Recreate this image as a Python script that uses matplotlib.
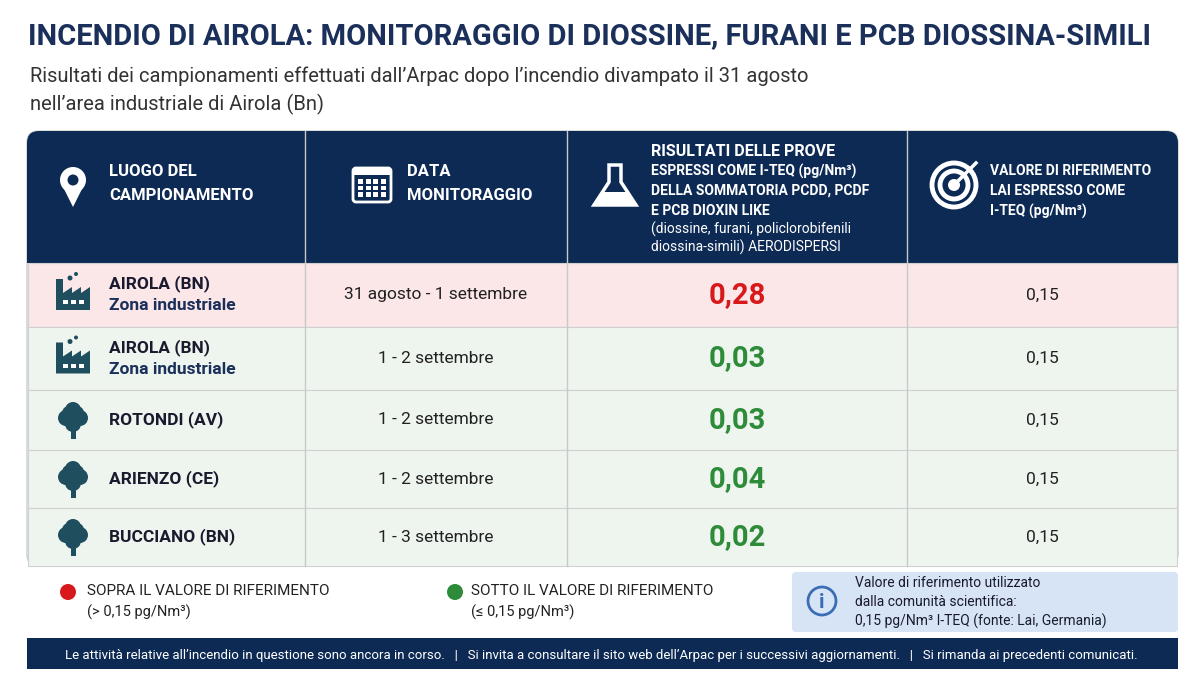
import matplotlib
matplotlib.use("Agg")
import matplotlib.pyplot as plt
from matplotlib.patches import Rectangle, FancyBboxPatch, Circle, Polygon

locations = ["AIROLA (BN)", "AIROLA (BN)", "ROTONDI (AV)", "ARIENZO (CE)", "BUCCIANO (BN)"]
sublabels = ["Zona industriale", "Zona industriale", "", "", ""]
icon_kind = ["factory", "factory", "tree", "tree", "tree"]
dates = ["31 agosto - 1 settembre", "1 - 2 settembre", "1 - 2 settembre", "1 - 2 settembre", "1 - 3 settembre"]
values = [0.28, 0.03, 0.03, 0.04, 0.02]
reference = [0.15, 0.15, 0.15, 0.15, 0.15]

NAVY = "#0d2a55"
TEAL = "#1f4e5f"
RED = "#d7191c"
GREEN = "#2e8b3a"
FONT = ["Roboto", "DejaVu Sans"]
plt.rcParams["font.family"] = FONT

fig = plt.figure(figsize=(12, 6.75), dpi=100)
ax = fig.add_axes([0, 0, 1, 1])
ax.set_xlim(0, 1200); ax.set_ylim(675, 0); ax.axis("off")

def fmt(v):
    return f"{v:.2f}".replace(".", ",")

# Title
ax.text(28, 36, "INCENDIO DI AIROLA: MONITORAGGIO DI DIOSSINE, FURANI E PCB DIOSSINA-SIMILI",
        fontsize=21, fontweight="bold", color="#1a2f5a", va="center")
ax.text(30, 76, "Risultati dei campionamenti effettuati dall\u2019Arpac dopo l\u2019incendio divampato il 31 agosto",
        fontsize=14.5, color="#333333", va="center")
ax.text(30, 104, "nell\u2019area industriale di Airola (Bn)", fontsize=14.5, color="#333333", va="center")

# Table
L, R = 27, 1178
top, htop = 131, 263
cols = [L, 305, 567, 907, R]
row_edges = [263, 327, 390, 450, 508, 566]
ax.add_patch(FancyBboxPatch((L, top), R - L, 566 - top, boxstyle="round,pad=0,rounding_size=12",
                            fc="white", ec="#cccccc", lw=1))
ax.add_patch(FancyBboxPatch((L, top), R - L, htop - top, boxstyle="round,pad=0,rounding_size=12",
                            fc=NAVY, ec="none"))
ax.add_patch(Rectangle((L, htop - 20), R - L, 20, fc=NAVY, ec="none"))

for i in range(len(values)):
    y0, y1 = row_edges[i], row_edges[i + 1]
    over = values[i] > reference[i]
    ax.add_patch(Rectangle((L + 1, y0), R - L - 2, y1 - y0, fc="#fbe6e8" if over else "#eef5ee",
                           ec="#d0d0d0", lw=0.8))
for x in cols[1:-1]:
    ax.plot([x, x], [top, 566], color="#c8c8c8", lw=1)

# Header texts
hdr = dict(color="white", fontweight="bold", fontsize=12, va="center")
ax.text(109, 172, "LUOGO DEL", **hdr); ax.text(109, 195, "CAMPIONAMENTO", **hdr)
ax.text(407, 172, "DATA", **hdr); ax.text(407, 195, "MONITORAGGIO", **hdr)
ax.text(651, 151, "RISULTATI DELLE PROVE", color="white", fontweight="bold", fontsize=11.5, va="center")
for k, t in enumerate(["ESPRESSI COME I-TEQ (pg/Nm\u00b3)", "DELLA SOMMATORIA PCDD, PCDF", "E PCB DIOXIN LIKE"]):
    ax.text(651, 171 + 20 * k, t, color="white", fontweight="bold", fontsize=10, va="center")
ax.text(651, 229, "(diossine, furani, policlorobifenili", color="white", fontsize=10, va="center")
ax.text(651, 247, "diossina-simili) AERODISPERSI", color="white", fontsize=10, va="center")
for k, t in enumerate(["VALORE DI RIFERIMENTO", "LAI ESPRESSO COME", "I-TEQ (pg/Nm\u00b3)"]):
    ax.text(990, 171 + 20 * k, t, color="white", fontweight="bold", fontsize=10, va="center")

# Header icons
ax.add_patch(Polygon([[61, 183], [85, 183], [73, 207]], closed=True, fc="white", ec="none"))
ax.add_patch(Circle((73, 180), 13, fc="white", ec="none"))
ax.add_patch(Circle((73, 180), 5.5, fc=NAVY, ec="none"))
ax.add_patch(FancyBboxPatch((353, 168), 38, 34, boxstyle="round,pad=0,rounding_size=3", fc="none", ec="white", lw=2))
ax.add_patch(Rectangle((353, 168), 38, 7, fc="white", ec="none"))
for r in range(3):
    for c in range(4):
        ax.add_patch(Rectangle((358 + c * 7.5, 179 + r * 6.5), 5, 4.5, fc="white", ec="none"))
ax.add_patch(Polygon([[609, 165], [621, 165], [621, 182], [636, 205], [594, 205], [609, 182]], closed=True,
                     fc="none", ec="white", lw=2.5))
ax.add_patch(Polygon([[603, 192], [627, 192], [634, 204], [596, 204]], closed=True, fc="white", ec="none"))
for rr in [22, 14]:
    ax.add_patch(Circle((954, 185), rr, fc="none", ec="white", lw=3.5))
ax.add_patch(Circle((954, 185), 6, fc="white", ec="none"))
ax.plot([954, 976], [185, 163], color="white", lw=2.5)

# Row icons
def factory(cx, cy):
    ax.add_patch(Polygon([[cx - 17, cy + 15], [cx - 17, cy - 16], [cx - 10, cy - 16], [cx - 10, cy - 2],
                          [cx - 1, cy - 8], [cx - 1, cy - 2], [cx + 8, cy - 8], [cx + 8, cy - 2],
                          [cx + 17, cy - 8], [cx + 17, cy + 15]], closed=True, fc=TEAL, ec="none"))
    for dx in [-8, 0, 8]:
        ax.add_patch(Rectangle((cx + dx - 2.5, cy + 5), 5, 4, fc="white", ec="none"))
    ax.add_patch(Circle((cx - 3, cy - 17), 2.5, fc=TEAL, ec="none"))
    ax.add_patch(Circle((cx + 3, cy - 21), 2, fc=TEAL, ec="none"))

def tree(cx, cy):
    ax.add_patch(Rectangle((cx - 2.5, cy + 5), 5, 14, fc=TEAL, ec="none"))
    for dx, dy, r in [(0, -10, 8), (-7, -2, 8), (7, -2, 8), (0, 4, 8), (-4, -7, 7), (4, -7, 7)]:
        ax.add_patch(Circle((cx + dx, cy + dy), r, fc=TEAL, ec="none"))

for i in range(len(values)):
    yc = (row_edges[i] + row_edges[i + 1]) / 2
    (factory if icon_kind[i] == "factory" else tree)(73, yc)
    if sublabels[i]:
        ax.text(109, yc - 11, locations[i], fontsize=12.5, fontweight="bold", color="#1a1a2e", va="center")
        ax.text(109, yc + 11, sublabels[i], fontsize=12.5, fontweight="bold", color="#1a2f5a", va="center")
    else:
        ax.text(109, yc, locations[i], fontsize=12.5, fontweight="bold", color="#1a1a2e", va="center")
    ax.text((cols[1] + cols[2]) / 2, yc, dates[i], fontsize=12.5, color="#222222", ha="center", va="center")
    ax.text((cols[2] + cols[3]) / 2, yc, fmt(values[i]), fontsize=21, fontweight="bold",
            color=RED if values[i] > reference[i] else GREEN, ha="center", va="center")
    ax.text((cols[3] + cols[4]) / 2, yc, fmt(reference[i]), fontsize=12.5, color="#222222", ha="center", va="center")

# Legend
ax.add_patch(Circle((68, 592), 8, fc=RED, ec="none"))
ax.text(87, 591, "SOPRA IL VALORE DI RIFERIMENTO", fontsize=11, color="#222222", va="center")
ax.text(87, 612, "(> 0,15 pg/Nm\u00b3)", fontsize=10.5, color="#222222", va="center")
ax.add_patch(Circle((455, 592), 8, fc=GREEN, ec="none"))
ax.text(471, 591, "SOTTO IL VALORE DI RIFERIMENTO", fontsize=11, color="#222222", va="center")
ax.text(471, 612, "(\u2264 0,15 pg/Nm\u00b3)", fontsize=10.5, color="#222222", va="center")

ax.add_patch(FancyBboxPatch((792, 572), 386, 60, boxstyle="round,pad=0,rounding_size=4", fc="#d6e4f5", ec="none"))
ax.add_patch(Circle((822, 601), 14, fc="none", ec="#3b6db5", lw=2))
ax.text(822, 602, "i", fontsize=15, fontweight="bold", color="#3b6db5", ha="center", va="center")
for k, t in enumerate(["Valore di riferimento utilizzato", "dalla comunit\u00e0 scientifica:",
                       "0,15 pg/Nm\u00b3 I-TEQ (fonte: Lai, Germania)"]):
    ax.text(855, 583 + 19 * k, t, fontsize=10, color="#1a1a2e", va="center")

# Footer
ax.add_patch(Rectangle((27, 638), 1151, 31, fc=NAVY, ec="none"))
ax.text(601, 656, "Le attivit\u00e0 relative all\u2019incendio in questione sono ancora in corso.   |   "
        "Si invita a consultare il sito web dell\u2019Arpac per i successivi aggiornamenti.   |   "
        "Si rimanda ai precedenti comunicati.", fontsize=9.5, color="white", ha="center", va="center")

fig.savefig("out.png", dpi=100)
